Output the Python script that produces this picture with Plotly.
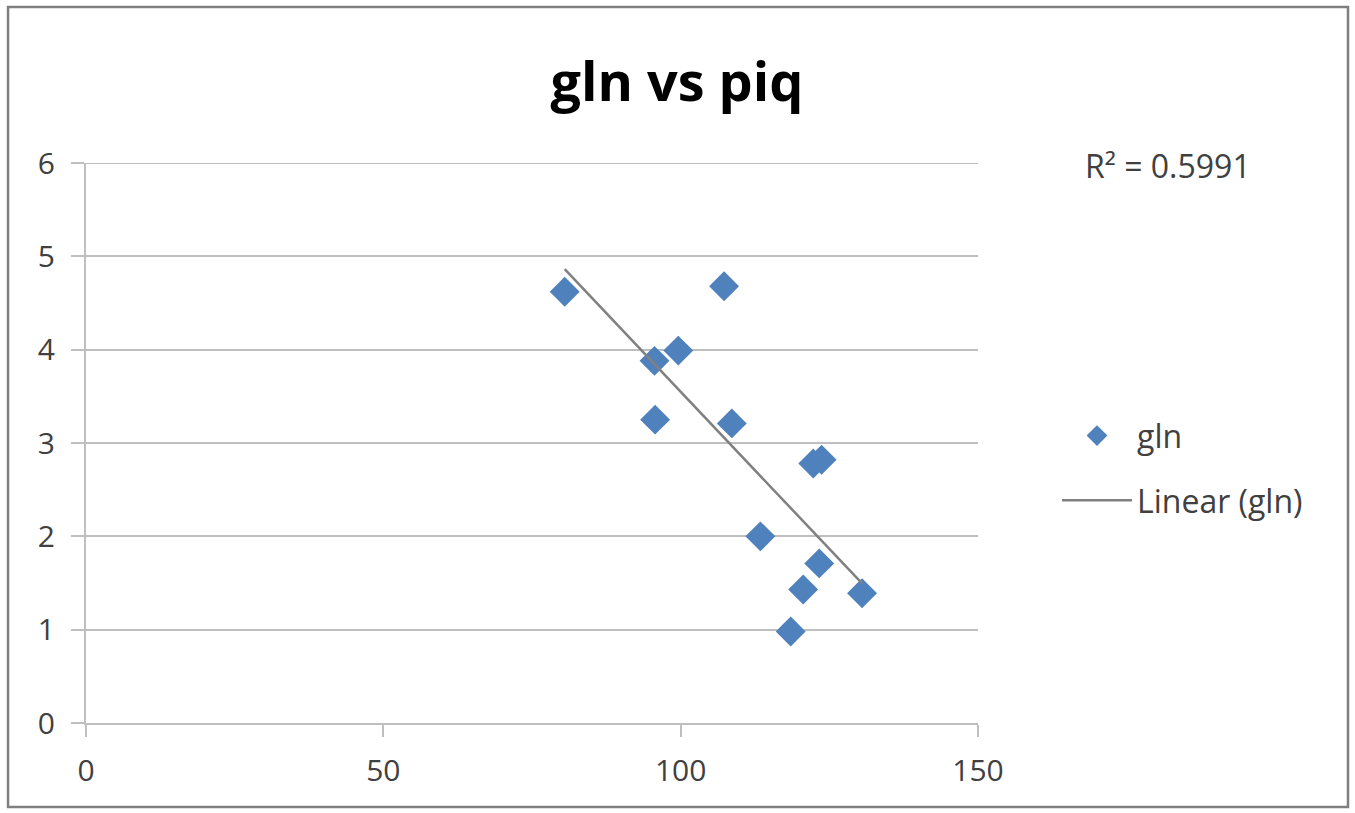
import numpy as np
import plotly.graph_objects as go

# data
piq = [80.5, 107.3, 95.6, 99.6, 95.7, 108.6, 122.3, 123.7, 113.4, 123.3, 120.6, 130.5, 118.5]
gln = [4.62, 4.68, 3.88, 3.99, 3.25, 3.21, 2.78, 2.82, 2.00, 1.71, 1.43, 1.39, 0.98]
r2_text = "R² = 0.5991"
x_ticks = [0, 50, 100, 150]
y_ticks = [0, 1, 2, 3, 4, 5, 6]

# linear trendline fitted from the data
slope, intercept = np.polyfit(piq, gln, 1)
tx = np.array([min(piq), max(piq)])
ty = slope * tx + intercept

fig = go.Figure()
fig.add_trace(go.Scatter(
    x=piq, y=gln, mode="markers", name="gln", legendgroup="a",
    marker=dict(symbol="diamond", size=23, color="#4f81bd",
                line=dict(width=0)),
))
fig.add_trace(go.Scatter(
    x=tx, y=ty, mode="lines", name="Linear (gln)", legendgroup="b",
    line=dict(color="#808080", width=2.5),
))

fig.add_annotation(xref="paper", yref="paper", x=(1083 - 86) / 892, y=(723 - 165) / 560,
                   text=r2_text, showarrow=False, xanchor="left", yanchor="middle",
                   font=dict(size=32, color="#404040", family="Open Sans"))

# top gridline at y = 6
fig.add_shape(type="line", xref="paper", yref="y", x0=0, x1=1, y0=6, y1=6,
              line=dict(color="#bfbfbf", width=2), layer="below")

# outer border
fig.add_shape(type="rect", xref="paper", yref="paper",
              x0=-0.0874, x1=1.4148, y0=-0.150, y1=1.2786,
              line=dict(color="#7f7f7f", width=2.5), fillcolor="rgba(0,0,0,0)", layer="below")

fig.update_layout(
    width=1355, height=813,
    margin=dict(l=86, r=377, t=163, b=90),
    paper_bgcolor="white", plot_bgcolor="white",
    title=dict(text="<b>gln vs piq</b>", x=(677 / 1355), xanchor="center",
               y=1 - 82 / 813, yanchor="middle",
               font=dict(size=54, color="#000000", family="Open Sans")),
    font=dict(family="Open Sans", color="#404040", size=30),
    legend=dict(x=(1057 - 86) / 892, y=0.562, xanchor="left", yanchor="top",
                font=dict(size=32, color="#404040"), traceorder="grouped",
                bgcolor="rgba(0,0,0,0)", tracegroupgap=20, itemwidth=70),
    showlegend=True,
)
fig.update_xaxes(range=[0, 150], tickvals=x_ticks, showgrid=False,
                 showline=True, linecolor="#bfbfbf", linewidth=2,
                 ticks="outside", ticklen=12, tickcolor="#bfbfbf", tickwidth=2,
                 ticklabelstandoff=8,
                 tickfont=dict(size=30, color="#404040"), zeroline=False)
fig.update_yaxes(range=[0, 6], tickvals=y_ticks, showgrid=True,
                 gridcolor="#bfbfbf", gridwidth=2,
                 showline=True, linecolor="#bfbfbf", linewidth=2,
                 ticks="outside", ticklen=13, tickcolor="#bfbfbf", tickwidth=2,
                 ticklabelstandoff=10,
                 tickfont=dict(size=30, color="#404040"), zeroline=False)

fig.write_html("out.html")
